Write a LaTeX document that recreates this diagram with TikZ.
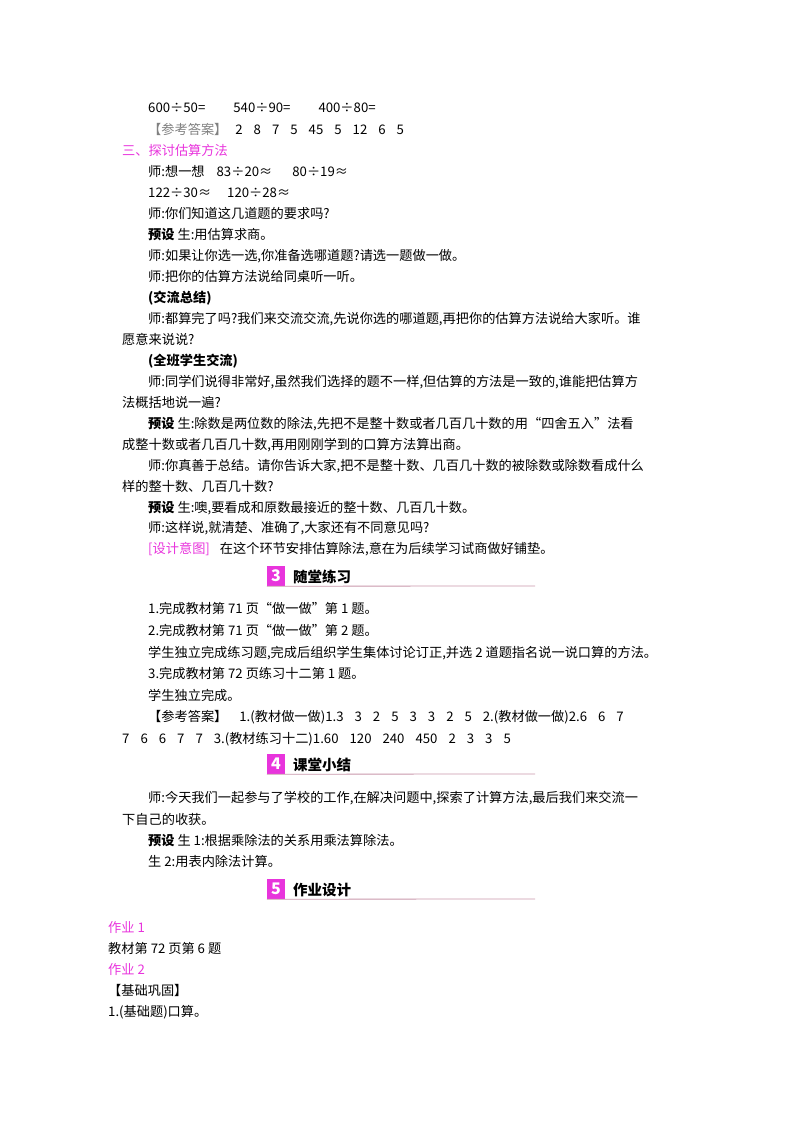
\documentclass[tikz,border=0pt]{standalone}
\usepackage{fontspec}
\setmainfont{Noto Sans CJK SC}
\definecolor{pk}{RGB}{232,52,220}
\definecolor{hl}{RGB}{200,150,170}
\newcommand{\fs}{\fontsize{13.2}{16}\selectfont}
\newcommand{\gp}{\hspace{11pt}}
\begin{document}
\begin{tikzpicture}[x=1pt,y=-1pt,
  t/.style={anchor=base west,inner sep=0pt,font=\fs},
  sq/.style={fill=pk,minimum width=18pt,minimum height=20pt,inner sep=0pt,text=white,font=\bfseries\itshape\fontsize{16}{16}\selectfont},
  ht/.style={anchor=west,inner sep=0pt,font=\bfseries\fontsize{14.5}{16}\selectfont}]
\useasboundingbox (0,0) rectangle (800,1132);
\node[t] (a1) at (148,112) {600÷50=\hspace{28pt}540÷90=\hspace{28pt}400÷80=};
\node[t] (a2) at (148,134) {\textcolor{gray}{【参考答案】}\hspace{8pt}2\gp8\gp7\gp5\gp45\gp5\gp12\gp6\gp5};
\node[t,text=pk] (a3) at (122,155) {三、探讨估算方法};
\node[t] (a4) at (148,176) {师:想一想\hspace{12pt}83÷20≈\hspace{20pt}80÷19≈};
\node[t] (a5) at (148,197) {122÷30≈\hspace{16pt}120÷28≈};
\node[t] (a6) at (148,218) {师:你们知道这几道题的要求吗?};
\node[t] (a7) at (148,239) {\textbf{预设}\ 生:用估算求商。};
\node[t] (a8) at (148,260) {师:如果让你选一选,你准备选哪道题?请选一题做一做。};
\node[t] (a9) at (148,281) {师:把你的估算方法说给同桌听一听。};
\node[t] (a10) at (148,302) {\textbf{(交流总结)}};
\node[t] (a11) at (148,323) {师:都算完了吗?我们来交流交流,先说你选的哪道题,再把你的估算方法说给大家听。谁};
\node[t] (a12) at (122,344) {愿意来说说?};
\node[t] (a13) at (148,365) {\textbf{(全班学生交流)}};
\node[t] (a14) at (148,386) {师:同学们说得非常好,虽然我们选择的题不一样,但估算的方法是一致的,谁能把估算方};
\node[t] (a15) at (122,407) {法概括地说一遍?};
\node[t] (a16) at (148,428) {\textbf{预设}\ 生:除数是两位数的除法,先把不是整十数或者几百几十数的用“四舍五入”法看};
\node[t] (a17) at (122,449) {成整十数或者几百几十数,再用刚刚学到的口算方法算出商。};
\node[t] (a18) at (148,470) {师:你真善于总结。请你告诉大家,把不是整十数、几百几十数的被除数或除数看成什么};
\node[t] (a19) at (122,491) {样的整十数、几百几十数?};
\node[t] (a20) at (148,512) {\textbf{预设}\ 生:噢,要看成和原数最接近的整十数、几百几十数。};
\node[t] (a21) at (148,532) {师:这样说,就清楚、准确了,大家还有不同意见吗?};
\node[t] (a22) at (148,553) {\textcolor{pk}{[设计意图]}\hspace{10pt}在这个环节安排估算除法,意在为后续学习试商做好铺垫。};
% header 3
\node[sq] (s3) at (276,576) {3};
\node[ht] (h3) at (293,577) {随堂练习};
\draw[hl,line width=0.8pt] (s3.south west) -- (535,586) coordinate (e3);
\node[t] (b1) at (148,613) {1.完成教材第 71 页“做一做”第 1 题。};
\node[t] (b2) at (148,635) {2.完成教材第 71 页“做一做”第 2 题。};
\node[t] (b3) at (148,657) {学生独立完成练习题,完成后组织学生集体讨论订正,并选 2 道题指名说一说口算的方法。};
\node[t] (b4) at (148,678) {3.完成教材第 72 页练习十二第 1 题。};
\node[t] (b5) at (148,700) {学生独立完成。};
\node[t] (b6) at (148,721) {【参考答案】\hspace{12pt}1.(教材做一做)1.3\gp3\gp2\gp5\gp3\gp3\gp2\gp5\gp2.(教材做一做)2.6\gp6\gp7};
\node[t] (b7) at (122,743) {7\gp6\gp6\gp7\gp7\gp3.(教材练习十二)1.60\gp120\gp240\gp450\gp2\gp3\gp3\gp5};
% header 4
\node[sq] (s4) at (276,764) {4};
\node[ht] (h4) at (293,765) {课堂小结};
\draw[hl,line width=0.8pt] (s4.south west) -- (535,774) coordinate (e4);
\node[t] (c1) at (148,802) {师:今天我们一起参与了学校的工作,在解决问题中,探索了计算方法,最后我们来交流一};
\node[t] (c2) at (122,824) {下自己的收获。};
\node[t] (c3) at (148,845) {\textbf{预设}\ 生 1:根据乘除法的关系用乘法算除法。};
\node[t] (c4) at (148,866) {生 2:用表内除法计算。};
% header 5
\node[sq] (s5) at (276,889) {5};
\node[ht] (h5) at (293,890) {作业设计};
\draw[hl,line width=0.8pt] (s5.south west) -- (535,899) coordinate (e5);
\node[t,text=pk] (d1) at (108,932) {作业 1};
\node[t] (d2) at (108,953) {教材第 72 页第 6 题};
\node[t,text=pk] (d3) at (108,974) {作业 2};
\node[t] (d4) at (108,995) {【基础巩固】};
\node[t] (d5) at (108,1016) {1.(基础题)口算。};
\end{tikzpicture}
\end{document}
